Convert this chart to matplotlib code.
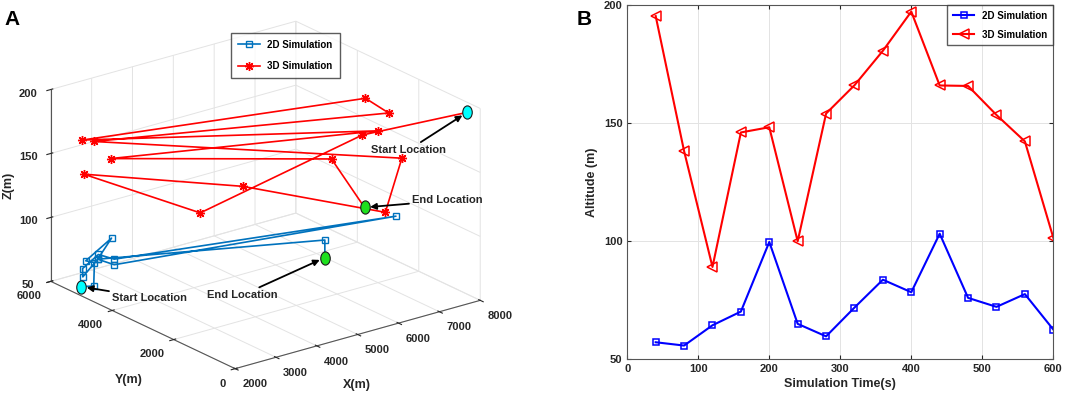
import matplotlib
matplotlib.use("Agg")
import matplotlib.pyplot as plt
import matplotlib.path as mpath
from mpl_toolkits.mplot3d import proj3d

# ---- panel B data (altitude vs time) ----
time_s = [40, 80, 120, 160, 200, 240, 280, 320, 360, 400, 440, 480, 520, 560, 600]
alt_2d = [57.1, 55.7, 64.3, 70.1, 99.6, 64.9, 59.6, 71.8, 83.6, 78.3, 103.1, 75.9, 72.1, 77.5, 62.5]
alt_3d = [195.3, 138.1, 89.0, 146.0, 148.2, 99.9, 154.0, 166.0, 180.6, 197.2, 165.9, 165.7, 153.4, 142.2, 101.4]

# ---- panel A data (3D trajectories) ----
x_3d = [7866, 7896, 4909, 2000, 3964, 7325, 7090, 2385, 7250, 6680, 2264, 7122, 2613, 6472, 7101]
y_3d = [250, 3700, 5002, 4930, 2360, 2191, 1340, 5115, 1982, 1980, 5319, 2167, 4869, 2809, 2571]

x_2d = [2002, 2273, 2691, 2372, 2280, 2823, 2240, 2000, 2210, 2522, 7230, 2441, 2524, 6424, 6476]
y_2d = [5013, 4966, 5499, 5356, 4395, 5568, 5277, 4965, 4731, 4629, 1720, 4521, 5170, 2962, 3031]

x_ticks = [2000, 3000, 4000, 5000, 6000, 7000, 8000]
y_ticks = [0, 2000, 4000, 6000]
z_ticks = [50, 100, 150, 200]

plt.rcParams['font.family'] = ['Liberation Sans', 'DejaVu Sans']
plt.rcParams['font.weight'] = 'bold'
plt.rcParams['axes.labelweight'] = 'bold'
plt.rcParams['grid.color'] = '#e3e3e3'
plt.rcParams['grid.linewidth'] = 0.7

TXT = '#262626'
BLUE_A = '#0072BD'

circ = mpath.Path.unit_circle()
ellipse = mpath.Path(circ.vertices * [0.72, 1.0], circ.codes)

fig = plt.figure(figsize=(10.65, 3.96), dpi=100)

# ================= panel A =================
# 3D axes are kept square, so give it a big square and shrink with zoom
ax = fig.add_axes([-0.0207, -0.2184, 0.5258, 1.4141], projection='3d', proj_type='ortho')
ax.view_init(elev=21.3, azim=-127.5)
ax.set_box_aspect((1.02, 1.0, 0.68), zoom=0.8306)

ax.plot(x_2d, y_2d, alt_2d, color=BLUE_A, lw=1.2, marker='s', ms=4,
        mfc='none', mec=BLUE_A, label='2D Simulation')
ax.plot(x_3d, y_3d, alt_3d, color='red', lw=1.2, marker=(8, 2, 0), ms=6.5, mew=1.0,
        label='3D Simulation')

for xs, ys, zs in [(x_2d, y_2d, alt_2d), (x_3d, y_3d, alt_3d)]:
    ax.plot([xs[0]], [ys[0]], [zs[0]], ls='none', marker=ellipse, ms=9.5,
            mfc='#00ffff', mec='#1a1a1a', mew=0.8)
    ax.plot([xs[-1]], [ys[-1]], [zs[-1]], ls='none', marker=ellipse, ms=9.5,
            mfc='#1ee01e', mec='#1a1a1a', mew=0.8)

ax.set_xlim(2000, 8000)
ax.set_ylim(0, 6000)
ax.set_zlim(50, 200)
ax.set_xticks(x_ticks, [str(t) for t in x_ticks], ha='left')
ax.set_yticks(y_ticks, [str(t) for t in y_ticks], ha='right')
ax.set_zticks(z_ticks)
for axis in (ax.xaxis, ax.yaxis, ax.zaxis):
    axis.set_pane_color((1, 1, 1, 0))
    axis.pane.set_edgecolor('#dcdcdc')
    axis.line.set_color('#555555')
    axis.line.set_linewidth(0.8)
ax.tick_params(labelsize=8, colors=TXT, pad=0)
ax.zaxis.set_tick_params(pad=3)

# axis titles placed like the original (MATLAB puts them differently than mplot3d)
fig.text(0.0085, 0.533, 'Z(m)', rotation=90, ha='center', va='center', fontsize=9, color=TXT)
fig.text(0.121, 0.040, 'Y(m)', ha='center', va='center', fontsize=9, color=TXT)
fig.text(0.335, 0.028, 'X(m)', ha='center', va='center', fontsize=9, color=TXT)

ax.legend(loc='upper center', bbox_to_anchor=(0.268, 0.93), bbox_transform=fig.transFigure,
          fontsize=7, frameon=True, fancybox=False, edgecolor='#333333',
          handlelength=2.2, borderpad=0.75, labelspacing=1.15)

# annotations anchored on the projected start / end points
M = ax.get_proj()
def proj(x, y, z):
    px, py, _ = proj3d.proj_transform(x, y, z, M)
    return px, py

arrow = dict(arrowstyle='-|>', color='black', lw=1.3, mutation_scale=9, shrinkA=0, shrinkB=4)
ann = [
    ((x_3d[0], y_3d[0], alt_3d[0]), 'Start Location', (-42, -27), 'center'),
    ((x_3d[-1], y_3d[-1], alt_3d[-1]), 'End Location', (34, 5), 'left'),
    ((x_2d[0], y_2d[0], alt_2d[0]), 'Start Location', (22, -8), 'left'),
    ((x_2d[-1], y_2d[-1], alt_2d[-1]), 'End Location', (-85, -27), 'left'),
]
for pt, txt, off, ha in ann:
    ax.annotate(txt, xy=proj(*pt), xycoords='data', xytext=off, textcoords='offset points',
                ha=ha, va='center', fontsize=8, color=TXT, arrowprops=arrow,
                annotation_clip=False)

fig.text(0.004, 0.975, 'A', fontsize=15, fontweight='bold', va='top')

# ================= panel B =================
bx = fig.add_axes([0.589, 0.0934, 0.4, 0.894])
bx.plot(time_s, alt_2d, color='blue', lw=1.5, marker='s', ms=4.5, mfc='none',
        mec='blue', mew=1.1, label='2D Simulation')
bx.plot(time_s, alt_3d, color='red', lw=1.5, marker='<', ms=6.5, mfc='none',
        mec='red', mew=1.1, label='3D Simulation')
bx.set_xlim(0, 600)
bx.set_ylim(50, 200)
bx.set_xticks(range(0, 601, 100))
bx.set_yticks([50, 100, 150, 200])
bx.grid(True)
bx.set_axisbelow(True)
bx.tick_params(labelsize=8, colors=TXT, direction='in', length=3, top=True, right=True)
for s in bx.spines.values():
    s.set_color('#555555')
    s.set_linewidth(0.8)
bx.set_xlabel('Simulation Time(s)', fontsize=9, color=TXT, labelpad=3)
bx.set_ylabel('Altitude (m)', fontsize=9, color=TXT, labelpad=4)
bx.legend(loc='upper right', fontsize=7, frameon=True, fancybox=False, edgecolor='#333333',
          borderaxespad=0, handlelength=2.2, borderpad=0.6, labelspacing=0.9)

fig.text(0.541, 0.975, 'B', fontsize=15, fontweight='bold', va='top')

fig.savefig('out.png', dpi=100)
